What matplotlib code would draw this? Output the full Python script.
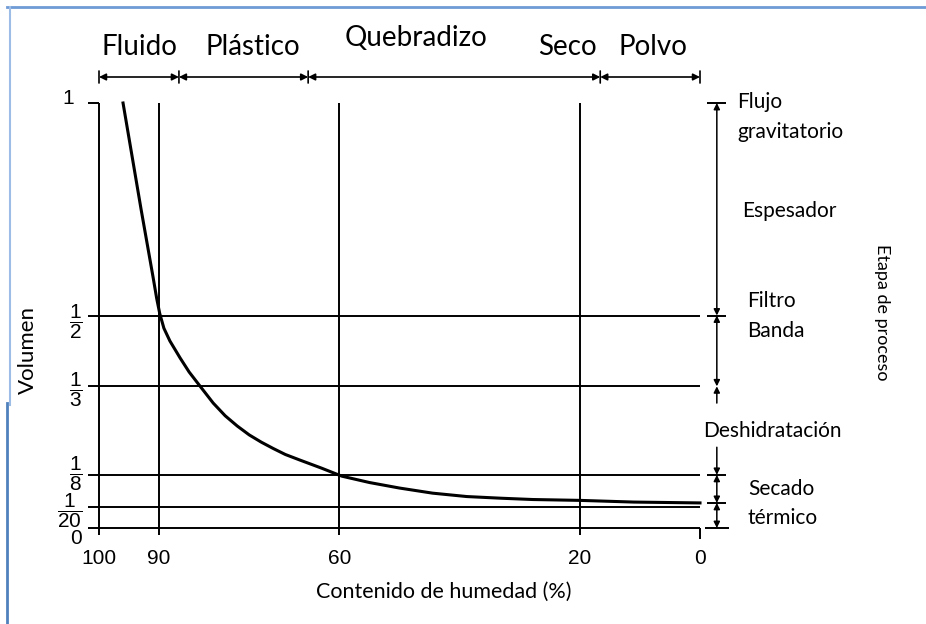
import matplotlib

matplotlib.use("Agg")
import matplotlib.pyplot as plt
from matplotlib.lines import Line2D
from matplotlib.transforms import ScaledTranslation


# moisture content (%) vs relative sludge volume
CURVE_MOISTURE = [96, 94.5, 93, 92, 91, 90.4, 89.9, 89.2, 88.2, 86.5, 85, 83.2, 81, 79, 77,
                  75, 73, 71, 69, 66.6, 63, 59.6, 55, 50, 44.5, 38.8, 33, 27.8, 20, 11, 0]
CURVE_VOLUME = [1.0, 0.875, 0.75, 0.67, 0.59, 0.54, 0.505, 0.47, 0.44, 0.40, 0.367, 0.334,
                0.294, 0.264, 0.24, 0.219, 0.202, 0.187, 0.173, 0.16, 0.141, 0.122, 0.107,
                0.094, 0.082, 0.074, 0.07, 0.067, 0.065, 0.061, 0.059]

MOISTURE_TICKS = [100, 90, 60, 20, 0]
MOISTURE_LABELS = ["100", "90", "60", "20", "0"]
VOLUME_TICKS = [0, 1 / 20, 1 / 8, 1 / 3, 1 / 2, 1]
VOLUME_LABELS = ["0", r"$\dfrac{1}{20}$", r"$\dfrac{1}{8}$", r"$\dfrac{1}{3}$", r"$\dfrac{1}{2}$", "1"]
VERTICAL_LINES = [100, 90, 60, 20]
HORIZONTAL_LINES = [1 / 2, 1 / 3, 1 / 8, 1 / 20, 0]

STATE_BOUNDS = [100, 86.7, 65.2, 16.6, 0]
STATE_LABELS = ["Fluido", "Plástico", "Quebradizo", "Seco", "Polvo"]
STATE_CENTERS = [93.2, 74.4, 47.3, 22, 7.8]

STAGE_TICKS = [1.0, 0.5, 1 / 8, 0.059, 0]

W, H = 926, 624
TEXT_FONT = ["Lato", "DejaVu Sans"]
NUM_FONT = ["Liberation Sans", "DejaVu Sans"]

plt.rcParams["mathtext.fontset"] = "custom"
plt.rcParams["mathtext.rm"] = "Liberation Sans"
plt.rcParams["mathtext.it"] = "Liberation Sans"
plt.rcParams["mathtext.default"] = "rm"


def fy(py):
    return 1 - py / H


def fx(px):
    return px / W


fig = plt.figure(figsize=(W / 100, H / 100), dpi=100)
ax = fig.add_axes([fx(99), fy(528), fx(700) - fx(99), fy(103) - fy(528)])
ax.set_xlim(100, 0)
ax.set_ylim(0, 1)
for spine in ax.spines.values():
    spine.set_visible(False)

line_kw = dict(color="black", lw=1.4, clip_on=False, solid_capstyle="butt")
for m in VERTICAL_LINES:
    ax.plot([m, m], [1, -0.017], **line_kw)
for v in HORIZONTAL_LINES:
    ax.plot([101.8, 0], [v, v], **line_kw)
ax.plot([101.8, 100], [1, 1], **line_kw)
ax.plot([0, 0], [0, -0.025], **line_kw)

ax.plot(CURVE_MOISTURE, CURVE_VOLUME, color="black", lw=2.2, clip_on=False,
        solid_joinstyle="round")

ax.set_xticks(MOISTURE_TICKS, labels=MOISTURE_LABELS)
ax.set_yticks(VOLUME_TICKS, labels=VOLUME_LABELS)
ax.tick_params(axis="x", length=0, pad=15, labelsize=15)
ax.tick_params(axis="y", length=0, pad=12, labelsize=15)
for label in ax.get_xticklabels() + ax.get_yticklabels():
    label.set_family(NUM_FONT)
# nudge crowded y labels like the original drawing (pixels, +up)
y_shift = {"1": (-8, 6), r"$\dfrac{1}{8}$": (0, 8), r"$\dfrac{1}{3}$": (0, 3),
           r"$\dfrac{1}{20}$": (0, 3), "0": (0, -9)}
for label in ax.get_yticklabels():
    dx, dy = y_shift.get(label.get_text(), (0, 0))
    label.set_transform(label.get_transform() + ScaledTranslation(dx / 100, dy / 100, fig.dpi_scale_trans))

ax.set_xlabel("Contenido de humedad (%)", family=TEXT_FONT, fontsize=15.5, va="center")
ax.xaxis.set_label_coords((444 - 99) / 601, (528 - 592) / 425)
ax.set_ylabel("Volumen", family=TEXT_FONT, fontsize=16, va="center", ha="center")
ax.yaxis.set_label_coords((28 - 99) / 601, (528 - 350) / 425)

# state bar along the top
arrow_y = fy(77)
arrow_kw = dict(arrowstyle="<|-|>", color="black", lw=1.2, mutation_scale=10, shrinkA=0, shrinkB=0)
for a, b in zip(STATE_BOUNDS[:-1], STATE_BOUNDS[1:]):
    ax.annotate("", xy=(b, arrow_y), xytext=(a, arrow_y),
                xycoords=("data", "figure fraction"), textcoords=("data", "figure fraction"),
                arrowprops=arrow_kw, annotation_clip=False)
for b in STATE_BOUNDS:
    ax.annotate("", xy=(b, fy(71)), xytext=(b, fy(83)),
                xycoords=("data", "figure fraction"), textcoords=("data", "figure fraction"),
                arrowprops=dict(arrowstyle="-", color="black", lw=1.2, shrinkA=0, shrinkB=0),
                annotation_clip=False)
state_y = [47, 47, 38, 47, 47]
for text, m, py in zip(STATE_LABELS, STATE_CENTERS, state_y):
    ax.annotate(text, xy=(m, fy(py)), xycoords=("data", "figure fraction"),
                ha="center", va="center", fontsize=20, family=TEXT_FONT, annotation_clip=False)

# process stage bracket on the right
bx = -2.8
segments = [(1.0, 0.5, "<|-|>"), (0.5, 1 / 3, "<|-|>"), (1 / 3, 0.294, "<|-"),
            (0.19, 1 / 8, "-|>"), (1 / 8, 0.059, "<|-|>"), (0.059, 0, "<|-|>")]
for top, bottom, style in segments:
    ax.annotate("", xy=(bx, bottom), xytext=(bx, top),
                arrowprops=dict(arrowstyle=style, color="black", lw=1.1, mutation_scale=9,
                                shrinkA=0, shrinkB=0), annotation_clip=False)
for v in STAGE_TICKS:
    half = 2.0 if v == 0 else 1.6
    ax.plot([bx - half, bx + half], [v, v], **line_kw)

right_texts = [("Flujo", 737, 102), ("gravitatorio", 737, 132), ("Espesador", 742, 211),
               ("Filtro", 747, 301), ("Banda", 747, 331), ("Deshidratación", 703, 431),
               ("Secado", 748, 489), ("térmico", 748, 518)]
for text, px, py in right_texts:
    fig.text(fx(px), fy(py), text, ha="left", va="center", fontsize=15, family=TEXT_FONT)
fig.text(fx(882), fy(312), "Etapa de proceso", rotation=270, ha="center", va="center",
         fontsize=13, family=TEXT_FONT)

# blue page frame
fig.add_artist(Line2D([fx(7), 1], [fy(7), fy(7)], color="#6f9bd6", lw=2))
fig.add_artist(Line2D([fx(10), fx(10)], [fy(7), fy(405)], color="#9dbde6", lw=1.5))
fig.add_artist(Line2D([fx(7), fx(7)], [fy(403), 0], color="#4f81bd", lw=2))

fig.savefig("out.png", dpi=100)
